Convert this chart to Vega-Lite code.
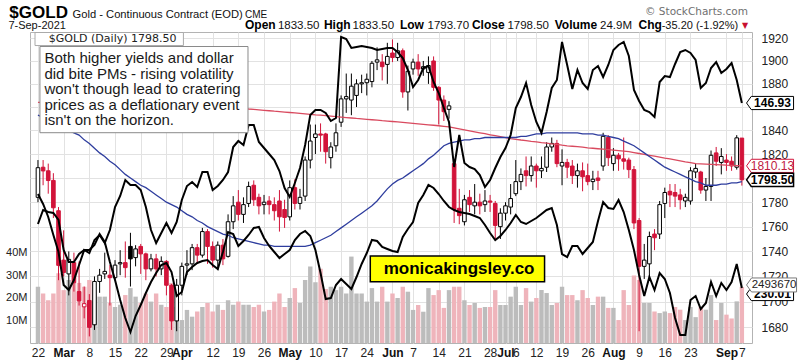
{
"$schema":"https://vega.github.io/schema/vega-lite/v6.json",
"width":722,"height":311,"autosize":"none",
"padding":{"left":30,"top":32,"right":51,"bottom":19},
"background":"#ffffff",
"config":{"view":{"stroke":"#b3b3b3","strokeWidth":1},"font":"Liberation Sans"},
"data":{"values":[
{"i":0,"d":"02-22","o":1784,"h":1815,"l":1780,"c":1808.6,"v":25,"m50":1853,"m200":1864.0,"a":136.01,"b":262.01},
{"i":1,"d":"02-23","o":1809,"h":1815,"l":1794,"c":1805.9,"v":22,"m50":1851,"m200":1863.9,"a":134.81,"b":269.01},
{"i":2,"d":"02-24","o":1806,"h":1812,"l":1787,"c":1797.9,"v":19,"m50":1849,"m200":1863.8,"a":133.25,"b":268.01},
{"i":3,"d":"02-25","o":1798,"h":1804,"l":1767,"c":1775.4,"v":22,"m50":1847,"m200":1863.7,"a":131.09,"b":267.51},
{"i":4,"d":"02-26","o":1773,"h":1776,"l":1717,"c":1728.8,"v":31,"m50":1845,"m200":1863.6,"a":129.05,"b":264.01},
{"i":5,"d":"03-01","o":1733,"h":1757,"l":1720,"c":1723.1,"v":23.5,"m50":1843,"m200":1863.5,"a":125.09,"b":249.01},
{"i":6,"d":"03-02","o":1722,"h":1740,"l":1705,"c":1733.6,"v":28,"m50":1840,"m200":1863.3,"a":124.49,"b":243.01},
{"i":7,"d":"03-03","o":1731,"h":1739,"l":1708,"c":1715,"v":26.7,"m50":1838,"m200":1863.2,"a":125.69,"b":243.01},
{"i":8,"d":"03-04","o":1708,"h":1732,"l":1697,"c":1700.7,"v":26.7,"m50":1836,"m200":1863.1,"a":127.49,"b":247.01},
{"i":9,"d":"03-05","o":1696,"h":1712,"l":1687,"c":1698.5,"v":25,"m50":1832,"m200":1863.0,"a":129.29,"b":249.01},
{"i":10,"d":"03-08","o":1701,"h":1706,"l":1673,"c":1680,"v":28,"m50":1829,"m200":1862.9,"a":128.93,"b":249.01},
{"i":11,"d":"03-09","o":1682,"h":1720,"l":1678,"c":1716,"v":23.5,"m50":1825,"m200":1862.8,"a":130.49,"b":251.51},
{"i":12,"d":"03-10","o":1716,"h":1726,"l":1707,"c":1721,"v":20.6,"m50":1821,"m200":1862.7,"a":131.09,"b":257.01},
{"i":13,"d":"03-11","o":1722,"h":1739,"l":1718,"c":1724,"v":20.6,"m50":1818,"m200":1862.6,"a":130.13,"b":253.01},
{"i":14,"d":"03-12","o":1721,"h":1729,"l":1697,"c":1719,"v":17.8,"m50":1814,"m200":1862.5,"a":131.69,"b":243.01},
{"i":15,"d":"03-15","o":1719,"h":1733,"l":1717,"c":1729,"v":16,"m50":1811,"m200":1862.3,"a":134.45,"b":234.01},
{"i":16,"d":"03-16","o":1730,"h":1741,"l":1721,"c":1731,"v":17,"m50":1807,"m200":1862.2,"a":135.77,"b":224.01},
{"i":17,"d":"03-17","o":1731,"h":1748,"l":1719,"c":1727,"v":21.3,"m50":1803,"m200":1862.1,"a":137.69,"b":215.01},
{"i":18,"d":"03-18","o":1744,"h":1755,"l":1712,"c":1734,"v":24.4,"m50":1800,"m200":1862.0,"a":137.09,"b":208.01},
{"i":19,"d":"03-19","o":1735,"h":1745,"l":1728,"c":1742,"v":20.6,"m50":1797,"m200":1861.9,"a":137.09,"b":216.01},
{"i":20,"d":"03-22","o":1744,"h":1746,"l":1722,"c":1738,"v":17.8,"m50":1794,"m200":1861.8,"a":136.49,"b":221.51},
{"i":21,"d":"03-23","o":1738,"h":1739,"l":1717,"c":1726,"v":22,"m50":1792,"m200":1861.7,"a":134.45,"b":227.51},
{"i":22,"d":"03-24","o":1726,"h":1738,"l":1724,"c":1734,"v":18.4,"m50":1789,"m200":1861.6,"a":131.69,"b":233.01},
{"i":23,"d":"03-25","o":1734,"h":1738,"l":1720,"c":1726,"v":22,"m50":1786,"m200":1861.5,"a":130.13,"b":237.51},
{"i":24,"d":"03-26","o":1726,"h":1736,"l":1721,"c":1732,"v":17,"m50":1783,"m200":1861.4,"a":131.33,"b":241.51},
{"i":25,"d":"03-29","o":1732,"h":1733,"l":1705,"c":1713,"v":16,"m50":1780,"m200":1861.2,"a":132.53,"b":242.51},
{"i":26,"d":"03-30","o":1713,"h":1714,"l":1678,"c":1685,"v":26.7,"m50":1778,"m200":1861.1,"a":131.33,"b":238.01},
{"i":27,"d":"03-31","o":1685,"h":1718,"l":1677,"c":1713,"v":16,"m50":1776,"m200":1861.0,"a":132.65,"b":226.01},
{"i":28,"d":"04-01","o":1713,"h":1731,"l":1705,"c":1728,"v":10.2,"m50":1773,"m200":1860.9,"a":135.29,"b":228.01},
{"i":29,"d":"04-05","o":1729,"h":1741,"l":1721,"c":1730,"v":14.7,"m50":1770,"m200":1860.8,"a":136.97,"b":238.01},
{"i":30,"d":"04-06","o":1730,"h":1746,"l":1725,"c":1743,"v":11.7,"m50":1768,"m200":1860.7,"a":137.45,"b":240.51},
{"i":31,"d":"04-07","o":1743,"h":1746,"l":1730,"c":1737,"v":14,"m50":1765,"m200":1860.6,"a":136.85,"b":242.51},
{"i":32,"d":"04-08","o":1737,"h":1759,"l":1735,"c":1756,"v":16,"m50":1763,"m200":1860.5,"a":138.65,"b":243.51},
{"i":33,"d":"04-09","o":1756,"h":1758,"l":1730,"c":1744,"v":17.8,"m50":1760,"m200":1860.4,"a":138.65,"b":244.01},
{"i":34,"d":"04-12","o":1744,"h":1748,"l":1727,"c":1733,"v":14,"m50":1758,"m200":1860.2,"a":136.49,"b":241.51},
{"i":35,"d":"04-13","o":1733,"h":1748,"l":1725,"c":1745,"v":17,"m50":1756,"m200":1860.1,"a":136.97,"b":239.51},
{"i":36,"d":"04-14","o":1745,"h":1750,"l":1729,"c":1734,"v":14.7,"m50":1754,"m200":1860.0,"a":137.69,"b":248.01},
{"i":37,"d":"04-15","o":1736,"h":1770,"l":1735,"c":1764,"v":19,"m50":1753,"m200":1859.7,"a":138.65,"b":258.01},
{"i":38,"d":"04-16","o":1764,"h":1785,"l":1758,"c":1777,"v":17,"m50":1751,"m200":1859.3,"a":141.65,"b":257.01},
{"i":39,"d":"04-19","o":1780,"h":1790,"l":1765,"c":1770,"v":18.4,"m50":1750,"m200":1859.0,"a":142.37,"b":251.01},
{"i":40,"d":"04-20","o":1770,"h":1784,"l":1763,"c":1778,"v":17,"m50":1749,"m200":1858.7,"a":141.89,"b":253.51},
{"i":41,"d":"04-21","o":1779,"h":1797,"l":1776,"c":1793,"v":17,"m50":1748,"m200":1858.3,"a":144.29,"b":256.51},
{"i":42,"d":"04-22","o":1794,"h":1798,"l":1777,"c":1782,"v":16,"m50":1747,"m200":1858.0,"a":144.29,"b":260.01},
{"i":43,"d":"04-23","o":1784,"h":1787,"l":1770,"c":1777,"v":17,"m50":1746,"m200":1857.6,"a":142.25,"b":260.51},
{"i":44,"d":"04-26","o":1778,"h":1786,"l":1770,"c":1780,"v":14,"m50":1745,"m200":1857.2,"a":141.53,"b":255.01},
{"i":45,"d":"04-27","o":1781,"h":1785,"l":1770,"c":1778,"v":14.7,"m50":1745,"m200":1856.8,"a":140.81,"b":251.01},
{"i":46,"d":"04-28","o":1778,"h":1784,"l":1765,"c":1773,"v":18.4,"m50":1744,"m200":1856.4,"a":140.09,"b":248.01},
{"i":47,"d":"04-29","o":1781,"h":1790,"l":1756,"c":1768,"v":22,"m50":1744,"m200":1856.1,"a":138.77,"b":245.01},
{"i":48,"d":"04-30","o":1774,"h":1782,"l":1759,"c":1767.5,"v":16,"m50":1744,"m200":1855.7,"a":136.73,"b":247.01},
{"i":49,"d":"05-03","o":1768,"h":1798,"l":1765,"c":1792,"v":20,"m50":1744,"m200":1855.3,"a":135.65,"b":249.01},
{"i":50,"d":"05-04","o":1792,"h":1799,"l":1774,"c":1779,"v":24.4,"m50":1744,"m200":1854.9,"a":137.33,"b":254.01},
{"i":51,"d":"05-05","o":1779,"h":1791,"l":1774,"c":1784,"v":17.8,"m50":1744,"m200":1854.5,"a":139.13,"b":257.01},
{"i":52,"d":"05-06","o":1785,"h":1818,"l":1781,"c":1815,"v":28,"m50":1744,"m200":1854.1,"a":141.89,"b":258.51},
{"i":53,"d":"05-07","o":1815,"h":1845,"l":1808,"c":1831,"v":34,"m50":1745,"m200":1853.7,"a":145.49,"b":256.01},
{"i":54,"d":"05-10","o":1834,"h":1845,"l":1820,"c":1837,"v":27,"m50":1747,"m200":1853.3,"a":146.09,"b":249.01},
{"i":55,"d":"05-11","o":1837,"h":1846,"l":1822,"c":1836,"v":33,"m50":1749,"m200":1853.0,"a":146.09,"b":237.51},
{"i":56,"d":"05-12","o":1837,"h":1838,"l":1812,"c":1822,"v":24,"m50":1751,"m200":1852.6,"a":145.73,"b":224.51},
{"i":57,"d":"05-13","o":1817,"h":1830,"l":1808,"c":1826,"v":25,"m50":1753,"m200":1852.2,"a":144.77,"b":225.01},
{"i":58,"d":"05-14","o":1827,"h":1846,"l":1822,"c":1838,"v":23.5,"m50":1756,"m200":1851.8,"a":145.13,"b":231.51},
{"i":59,"d":"05-17","o":1847,"h":1870,"l":1843,"c":1867,"v":25,"m50":1759,"m200":1851.4,"a":154.85,"b":234.51},
{"i":60,"d":"05-18","o":1867,"h":1889,"l":1855,"c":1869,"v":22,"m50":1762,"m200":1851.0,"a":154.61,"b":232.01},
{"i":61,"d":"05-19","o":1866,"h":1889,"l":1853,"c":1878,"v":38.4,"m50":1765,"m200":1850.6,"a":153.53,"b":229.51},
{"i":62,"d":"05-20","o":1870,"h":1884,"l":1860,"c":1880,"v":22,"m50":1768,"m200":1850.2,"a":153.65,"b":235.51},
{"i":63,"d":"05-21","o":1880,"h":1888,"l":1872,"c":1881,"v":22,"m50":1771,"m200":1849.9,"a":153.77,"b":242.01},
{"i":64,"d":"05-24","o":1881,"h":1889,"l":1870,"c":1884,"v":18.4,"m50":1774,"m200":1849.5,"a":153.65,"b":247.51},
{"i":65,"d":"05-25","o":1882,"h":1900,"l":1877,"c":1898,"v":24.4,"m50":1777,"m200":1849.1,"a":153.53,"b":254.01},
{"i":66,"d":"05-26","o":1899,"h":1912,"l":1892,"c":1901,"v":18.4,"m50":1781,"m200":1848.7,"a":153.29,"b":253.51},
{"i":67,"d":"05-27","o":1899,"h":1906,"l":1883,"c":1895,"v":25,"m50":1786,"m200":1848.3,"a":153.41,"b":250.51},
{"i":68,"d":"05-28","o":1897,"h":1916,"l":1880,"c":1904,"v":18.4,"m50":1791,"m200":1848.0,"a":153.53,"b":249.51},
{"i":69,"d":"06-01","o":1907,"h":1919,"l":1899,"c":1903,"v":22,"m50":1795,"m200":1847.6,"a":153.53,"b":248.51},
{"i":70,"d":"06-02","o":1903,"h":1916,"l":1900,"c":1909,"v":20,"m50":1798,"m200":1847.2,"a":153.05,"b":248.01},
{"i":71,"d":"06-03","o":1909,"h":1911,"l":1868,"c":1873,"v":25,"m50":1800,"m200":1846.8,"a":152.33,"b":255.51},
{"i":72,"d":"06-04","o":1873,"h":1896,"l":1857,"c":1891,"v":22.8,"m50":1803,"m200":1846.4,"a":150.89,"b":259.51},
{"i":73,"d":"06-07","o":1893,"h":1902,"l":1888,"c":1899,"v":14.7,"m50":1806,"m200":1846.0,"a":148.85,"b":263.01},
{"i":74,"d":"06-08","o":1899,"h":1906,"l":1887,"c":1893,"v":16.9,"m50":1809,"m200":1845.6,"a":149.69,"b":272.51},
{"i":75,"d":"06-09","o":1893,"h":1900,"l":1887,"c":1895,"v":13.9,"m50":1812,"m200":1845.2,"a":151.13,"b":276.51},
{"i":76,"d":"06-10","o":1890,"h":1904,"l":1880,"c":1896,"v":24.4,"m50":1816,"m200":1844.8,"a":151.37,"b":281.51},
{"i":77,"d":"06-11","o":1900,"h":1904,"l":1874,"c":1877,"v":21.3,"m50":1819,"m200":1844.4,"a":149.45,"b":280.01},
{"i":78,"d":"06-14","o":1877,"h":1878,"l":1845,"c":1866,"v":23.5,"m50":1823,"m200":1844.0,"a":148.13,"b":277.01},
{"i":79,"d":"06-15","o":1866,"h":1870,"l":1848,"c":1856,"v":15.6,"m50":1827,"m200":1843.5,"a":146.33,"b":273.51},
{"i":80,"d":"06-16","o":1858,"h":1865,"l":1850,"c":1861,"v":23.5,"m50":1829,"m200":1843.0,"a":144.65,"b":270.51},
{"i":81,"d":"06-17","o":1812,"h":1816,"l":1763,"c":1774,"v":25,"m50":1830,"m200":1842.2,"a":139.25,"b":269.01},
{"i":82,"d":"06-18","o":1775,"h":1791,"l":1762,"c":1769,"v":25,"m50":1831,"m200":1841.3,"a":143.09,"b":268.01},
{"i":83,"d":"06-21","o":1764,"h":1786,"l":1761,"c":1782,"v":19,"m50":1832,"m200":1840.5,"a":139.73,"b":267.51},
{"i":84,"d":"06-22","o":1784,"h":1790,"l":1772,"c":1778,"v":16.9,"m50":1832,"m200":1839.7,"a":139.25,"b":267.01},
{"i":85,"d":"06-23","o":1777,"h":1795,"l":1770,"c":1780,"v":17.8,"m50":1833,"m200":1838.8,"a":139.01,"b":266.01},
{"i":86,"d":"06-24","o":1780,"h":1787,"l":1770,"c":1777,"v":15.6,"m50":1833,"m200":1838.0,"a":138.29,"b":265.01},
{"i":87,"d":"06-25","o":1778,"h":1790,"l":1772,"c":1781,"v":16,"m50":1834,"m200":1837.2,"a":136.85,"b":261.51},
{"i":88,"d":"06-28","o":1781,"h":1786,"l":1772,"c":1780,"v":16,"m50":1834,"m200":1836.3,"a":137.69,"b":257.51},
{"i":89,"d":"06-29","o":1779,"h":1781,"l":1750,"c":1761,"v":23.5,"m50":1834,"m200":1835.5,"a":139.13,"b":254.01},
{"i":90,"d":"06-30","o":1760,"h":1775,"l":1750,"c":1771,"v":16.9,"m50":1834,"m200":1834.7,"a":140.45,"b":256.01},
{"i":91,"d":"07-01","o":1771,"h":1780,"l":1765,"c":1777,"v":16.9,"m50":1834,"m200":1833.8,"a":141.53,"b":259.01},
{"i":92,"d":"07-02","o":1776,"h":1795,"l":1770,"c":1783,"v":20.6,"m50":1834,"m200":1833.0,"a":143.09,"b":262.51},
{"i":93,"d":"07-06","o":1787,"h":1815,"l":1785,"c":1797,"v":25,"m50":1834,"m200":1832.5,"a":146.33,"b":266.51},
{"i":94,"d":"07-07","o":1797,"h":1808,"l":1790,"c":1803,"v":16.9,"m50":1835,"m200":1831.9,"a":147.65,"b":263.01},
{"i":95,"d":"07-08","o":1806,"h":1818,"l":1793,"c":1802,"v":24.4,"m50":1835,"m200":1831.4,"a":149.33,"b":262.01},
{"i":96,"d":"07-09","o":1802,"h":1818,"l":1797,"c":1810,"v":18.4,"m50":1836,"m200":1830.8,"a":146.69,"b":263.51},
{"i":97,"d":"07-12","o":1810,"h":1812,"l":1792,"c":1806,"v":20,"m50":1837,"m200":1830.3,"a":144.65,"b":265.01},
{"i":98,"d":"07-13","o":1806,"h":1818,"l":1800,"c":1808,"v":23.5,"m50":1837,"m200":1829.7,"a":143.33,"b":267.01},
{"i":99,"d":"07-14","o":1809,"h":1830,"l":1805,"c":1826,"v":22.2,"m50":1838,"m200":1829.2,"a":145.85,"b":269.01},
{"i":100,"d":"07-15","o":1826,"h":1834,"l":1822,"c":1829,"v":16.9,"m50":1838,"m200":1828.6,"a":148.73,"b":270.01},
{"i":101,"d":"07-16","o":1829,"h":1832,"l":1809,"c":1812,"v":17.8,"m50":1838,"m200":1828.1,"a":149.69,"b":261.51},
{"i":102,"d":"07-19","o":1810,"h":1824,"l":1794,"c":1813,"v":25,"m50":1838,"m200":1827.5,"a":154.25,"b":247.01},
{"i":103,"d":"07-20","o":1813,"h":1816,"l":1800,"c":1809,"v":21.3,"m50":1838,"m200":1827.0,"a":151.49,"b":245.51},
{"i":104,"d":"07-21","o":1810,"h":1815,"l":1795,"c":1802,"v":21.3,"m50":1838,"m200":1826.6,"a":148.61,"b":251.01},
{"i":105,"d":"07-22","o":1802,"h":1812,"l":1792,"c":1806,"v":19,"m50":1838,"m200":1826.2,"a":150.89,"b":251.01},
{"i":106,"d":"07-23","o":1806,"h":1813,"l":1789,"c":1801,"v":23.5,"m50":1837,"m200":1825.8,"a":149.33,"b":247.01},
{"i":107,"d":"07-26","o":1802,"h":1812,"l":1794,"c":1797,"v":20,"m50":1837,"m200":1825.3,"a":148.61,"b":250.01},
{"i":108,"d":"07-27","o":1797,"h":1806,"l":1790,"c":1799,"v":16.9,"m50":1837,"m200":1824.9,"a":150.89,"b":253.01},
{"i":109,"d":"07-28","o":1800,"h":1806,"l":1790,"c":1798,"v":20.6,"m50":1836,"m200":1824.5,"a":151.37,"b":263.51},
{"i":110,"d":"07-29","o":1810,"h":1838,"l":1806,"c":1835,"v":20.6,"m50":1836,"m200":1824.1,"a":150.05,"b":273.01},
{"i":111,"d":"07-30","o":1834,"h":1836,"l":1810,"c":1817,"v":15.6,"m50":1835,"m200":1823.7,"a":151.49,"b":270.01},
{"i":112,"d":"08-02","o":1812,"h":1825,"l":1806,"c":1819,"v":15.6,"m50":1834,"m200":1823.3,"a":153.29,"b":269.51},
{"i":113,"d":"08-03","o":1819,"h":1821,"l":1806,"c":1816,"v":10.2,"m50":1833,"m200":1822.9,"a":153.89,"b":274.01},
{"i":114,"d":"08-04","o":1816,"h":1834,"l":1807,"c":1814,"v":23.5,"m50":1831,"m200":1822.5,"a":154.25,"b":268.01},
{"i":115,"d":"08-05","o":1815,"h":1817,"l":1800,"c":1807,"v":16.9,"m50":1829,"m200":1822.0,"a":152.57,"b":259.01},
{"i":116,"d":"08-06","o":1807,"h":1810,"l":1758,"c":1763,"v":30,"m50":1827,"m200":1821.3,"a":148.49,"b":249.01},
{"i":117,"d":"08-09","o":1765,"h":1767,"l":1677,"c":1728,"v":28,"m50":1824,"m200":1820.5,"a":147.17,"b":236.51},
{"i":118,"d":"08-10","o":1728,"h":1746,"l":1718,"c":1733,"v":17.8,"m50":1821,"m200":1819.7,"a":146.09,"b":226.01},
{"i":119,"d":"08-11","o":1730,"h":1756,"l":1718,"c":1752,"v":17.8,"m50":1818,"m200":1819.0,"a":145.85,"b":235.51},
{"i":120,"d":"08-12","o":1754,"h":1758,"l":1741,"c":1751,"v":14,"m50":1815,"m200":1818.2,"a":145.25,"b":229.01},
{"i":121,"d":"08-13","o":1754,"h":1781,"l":1750,"c":1778,"v":13.3,"m50":1812,"m200":1817.4,"a":149.45,"b":237.51},
{"i":122,"d":"08-16","o":1779,"h":1792,"l":1767,"c":1788,"v":14,"m50":1809,"m200":1816.6,"a":150.17,"b":234.51},
{"i":123,"d":"08-17","o":1789,"h":1795,"l":1776,"c":1786,"v":13.3,"m50":1807,"m200":1815.9,"a":150.05,"b":227.51},
{"i":124,"d":"08-18","o":1788,"h":1795,"l":1776,"c":1785,"v":16,"m50":1805,"m200":1815.1,"a":151.61,"b":215.01},
{"i":125,"d":"08-19","o":1786,"h":1791,"l":1774,"c":1782,"v":14.8,"m50":1803,"m200":1814.3,"a":153.05,"b":206.51},
{"i":126,"d":"08-20","o":1781,"h":1787,"l":1776,"c":1784,"v":10.2,"m50":1801,"m200":1813.5,"a":153.29,"b":206.51},
{"i":127,"d":"08-23","o":1781,"h":1809,"l":1778,"c":1806,"v":16,"m50":1799,"m200":1812.8,"a":152.93,"b":224.01},
{"i":128,"d":"08-24","o":1805,"h":1812,"l":1800,"c":1808,"v":11.5,"m50":1797,"m200":1812.0,"a":152.09,"b":226.01},
{"i":129,"d":"08-25","o":1805,"h":1806,"l":1787,"c":1790,"v":16,"m50":1796,"m200":1811.8,"a":148.73,"b":219.51},
{"i":130,"d":"08-26","o":1790,"h":1800,"l":1781,"c":1793,"v":14.8,"m50":1794,"m200":1811.6,"a":149.33,"b":222.51},
{"i":131,"d":"08-27","o":1793,"h":1823,"l":1781,"c":1819,"v":21.3,"m50":1794,"m200":1811.4,"a":151.13,"b":233.01},
{"i":132,"d":"08-30","o":1821,"h":1826,"l":1810,"c":1814,"v":10.2,"m50":1794,"m200":1811.2,"a":151.85,"b":226.01},
{"i":133,"d":"08-31","o":1813,"h":1825,"l":1803,"c":1818,"v":17.8,"m50":1795,"m200":1811.0,"a":150.53,"b":232.51},
{"i":134,"d":"09-01","o":1815,"h":1820,"l":1806,"c":1813,"v":12.6,"m50":1795,"m200":1810.7,"a":151.01,"b":229.01},
{"i":135,"d":"09-02","o":1814,"h":1818,"l":1806,"c":1810,"v":10.9,"m50":1796,"m200":1810.5,"a":151.73,"b":233.01},
{"i":136,"d":"09-03","o":1809,"h":1836,"l":1807,"c":1833.7,"v":18.5,"m50":1796,"m200":1810.3,"a":149.69,"b":242.01},
{"i":137,"d":"09-07","o":1833.5,"h":1833.5,"l":1793.7,"c":1798.5,"v":24.9,"m50":1797,"m200":1810.13,"a":146.93,"b":230.01}
]},
"resolve":{"scale":{"y":"independent"},"axis":{"x":"independent","y":"independent"}},
"layer":[
{"transform":[{"window":[{"op":"lag","field":"c","as":"pc"}],"sort":[{"field":"i"}]}],
 "mark":{"type":"bar","width":4.4},
 "encoding":{
  "x":{"field":"i","type":"quantitative","scale":{"domain":[-0.576,138],"nice":false,"zero":false},
   "axis":{"orient":"bottom","values":[0,5,10,15,20,25,28,34,39,44,49,54,59,64,69,73,78,83,88,91,93,97,102,107,112,117,122,127,134,137],"grid":true,"gridColor":"#e2e2e2","labels":false,"ticks":false,"domain":false,"title":null}},
  "y":{"field":"v","type":"quantitative","scale":{"domain":[0,138.2],"nice":false},
   "axis":{"orient":"left","values":[10,20,30,40],"labelExpr":"datum.value + 'M'","grid":false,"ticks":false,"domain":false,"labelPadding":3,"labelFontSize":11,"labelColor":"#222222","labelFont":"Liberation Sans","title":null}},
  "color":{"condition":{"test":"datum.pc != null && datum.c < datum.pc","value":"#efb4bb"},"value":"#bcbcbc"}}},
{"transform":[{"window":[{"op":"lag","field":"c","as":"pc"}],"sort":[{"field":"i"}]}],
 "mark":{"type":"rule","strokeWidth":1},
 "encoding":{
  "x":{"field":"i","type":"quantitative","scale":{"domain":[-0.576,138],"nice":false,"zero":false},
   "axis":{"orient":"bottom","values":[0,10,15,20,25,34,39,44,54,59,64,73,78,83,88,93,97,102,107,117,122,127,137],
    "labelExpr":"['22','8','15','22','29','12','19','26','10','17','24','7','14','21','28','6','12','19','26','9','16','23','7'][indexof([0,10,15,20,25,34,39,44,54,59,64,73,78,83,88,93,97,102,107,117,122,127,137], datum.value)]",
    "grid":false,"ticks":false,"domain":false,"labelPadding":4,"labelFontSize":12,"labelColor":"#222222","labelFont":"Liberation Sans","labelOverlap":false,"labelFlush":false,"labelBound":false,"title":null}},
  "y":{"field":"l","type":"quantitative","scale":{"type":"log","domain":[1667.9,1925.6],"nice":false,"zero":false},
   "axis":{"orient":"right","values":[1680,1700,1720,1740,1760,1780,1820,1840,1880,1900,1920],"format":"d","grid":false,"ticks":false,"domain":false,"labelPadding":9,"labelFontSize":12,"labelColor":"#222222","labelFont":"Liberation Sans","labelOverlap":false,"labelBound":false,"title":null}},
  "y2":{"field":"h"},
  "color":{"condition":{"test":"datum.pc != null && datum.c < datum.pc","value":"#d2143a"},"value":"#000000"}}},
{"transform":[{"window":[{"op":"lag","field":"c","as":"pc"}],"sort":[{"field":"i"}]}],
 "mark":{"type":"bar","width":3.6,"strokeWidth":1},
 "encoding":{
  "x":{"field":"i","type":"quantitative","scale":{"domain":[-0.576,138],"nice":false,"zero":false},
   "axis":{"orient":"bottom","values":[5,28,49,69,91,112,134],"labelExpr":"['Mar','Apr','May','Jun','Jul','Aug','Sep'][indexof([5,28,49,69,91,112,134], datum.value)]",
    "grid":false,"ticks":false,"domain":false,"labelPadding":4,"labelFontSize":12,"labelFontWeight":"bold","labelColor":"#111111","labelFont":"Liberation Sans","labelOverlap":false,"labelFlush":false,"labelBound":false,"title":null}},
  "y":{"field":"o","type":"quantitative","scale":{"type":"log","domain":[1667.9,1925.6],"nice":false,"zero":false},"axis":null},
  "y2":{"field":"c"},
  "fill":{"condition":[{"test":"datum.c >= datum.o","value":"#ffffff"},{"test":"datum.pc != null && datum.c < datum.pc","value":"#d2143a"}],"value":"#000000"},
  "stroke":{"condition":{"test":"datum.pc != null && datum.c < datum.pc","value":"#d2143a"},"value":"#000000"}}},
{"mark":{"type":"line","color":"#d94a5f","strokeWidth":1.3},
 "encoding":{"x":{"field":"i","type":"quantitative","scale":{"domain":[-0.576,138],"nice":false,"zero":false},"axis":null},
  "y":{"field":"m200","type":"quantitative","scale":{"type":"log","domain":[1667.9,1925.6],"nice":false,"zero":false},
   "axis":{"orient":"right","values":[1680,1700,1720,1740,1760,1780,1800,1820,1840,1860,1880,1900,1920],"grid":true,"gridColor":"#e2e2e2","labels":false,"ticks":false,"domain":false,"title":null}}}},
{"mark":{"type":"line","color":"#2e3d9e","strokeWidth":1.3},
 "encoding":{"x":{"field":"i","type":"quantitative","scale":{"domain":[-0.576,138],"nice":false,"zero":false},"axis":null},
  "y":{"field":"m50","type":"quantitative","scale":{"type":"log","domain":[1667.9,1925.6],"nice":false,"zero":false},"axis":null}}},
{"mark":{"type":"line","color":"#000000","strokeWidth":2},
 "encoding":{"x":{"field":"i","type":"quantitative","scale":{"domain":[-0.576,138],"nice":false,"zero":false},"axis":null},
  "y":{"field":"a","type":"quantitative","scale":{"domain":[118.13,155.45],"nice":false,"zero":false},"axis":null}}},
{"mark":{"type":"line","color":"#000000","strokeWidth":2},
 "encoding":{"x":{"field":"i","type":"quantitative","scale":{"domain":[-0.576,138],"nice":false,"zero":false},"axis":null},
  "y":{"field":"b","type":"quantitative","scale":{"domain":[202.51,358.01],"nice":false,"zero":false},"axis":null}}},
{"data":{"values":[{}]},"mark":{"type":"rect","fill":"#ffffff","stroke":"#aaaaaa","strokeWidth":1},
 "encoding":{"x":{"datum":-0.576,"type":"quantitative","scale":{"domain":[-0.576,138],"nice":false,"zero":false},"axis":null},"x2":{"datum":28.31},
  "y":{"datum":1925.15,"type":"quantitative","scale":{"type":"log","domain":[1667.9,1925.6],"nice":false,"zero":false},"axis":null},"y2":{"datum":1913.6}}},
{"data":{"values":[{}]},"mark":{"type":"text","text":"$GOLD (Daily) 1798.50","align":"left","baseline":"middle","font":"DejaVu Sans","fontSize":11,"color":"#222222"},
 "encoding":{"x":{"datum":2.11,"type":"quantitative","scale":{"domain":[-0.576,138],"nice":false,"zero":false},"axis":null},
  "y":{"datum":1919.4,"type":"quantitative","scale":{"type":"log","domain":[1667.9,1925.6],"nice":false,"zero":false},"axis":null}}},
{"data":{"values":[{}]},"mark":{"type":"rect","fill":"#ffffff","stroke":"#8a8a8a","strokeWidth":1},
 "encoding":{"x":{"datum":0.384,"type":"quantitative","scale":{"domain":[-0.576,138],"nice":false,"zero":false},"axis":null},"x2":{"datum":40.88},
  "y":{"datum":1912.74,"type":"quantitative","scale":{"type":"log","domain":[1667.9,1925.6],"nice":false,"zero":false},"axis":null},"y2":{"datum":1838.06}}},
{"data":{"values":[{}]},"mark":{"type":"text","text":["Both higher yields and dollar","did bite PMs - rising volatility","won't though lead to cratering","prices as a deflationary event","isn't on the horizon."],"align":"left","baseline":"top","lineHeight":15.5,"font":"Liberation Sans","fontSize":15,"color":"#1a1a1a"},
 "encoding":{"x":{"datum":1.25,"type":"quantitative","scale":{"domain":[-0.576,138],"nice":false,"zero":false},"axis":null},
  "y":{"datum":1908.6,"type":"quantitative","scale":{"type":"log","domain":[1667.9,1925.6],"nice":false,"zero":false},"axis":null}}},
{"data":{"values":[{}]},"mark":{"type":"rect","fill":"#ffff00","stroke":"#000000","strokeWidth":1.5},
 "encoding":{"x":{"datum":64.68,"type":"quantitative","scale":{"domain":[-0.576,138],"nice":false,"zero":false},"axis":null},"x2":{"datum":98.6},
  "y":{"datum":1736.3,"type":"quantitative","scale":{"type":"log","domain":[1667.9,1925.6],"nice":false,"zero":false},"axis":null},"y2":{"datum":1715.77}}},
{"data":{"values":[{}]},"mark":{"type":"text","text":"monicakingsley.co","align":"center","baseline":"middle","font":"Liberation Sans","fontSize":17,"fontWeight":"bold","color":"#000000"},
 "encoding":{"x":{"datum":81.96,"type":"quantitative","scale":{"domain":[-0.576,138],"nice":false,"zero":false},"axis":null},
  "y":{"datum":1725.87,"type":"quantitative","scale":{"type":"log","domain":[1667.9,1925.6],"nice":false,"zero":false},"axis":null}}},
{"data":{"values":[{}]},"mark":{"type":"text","text":"$GOLD","align":"left","baseline":"alphabetic","font":"Liberation Sans","fontSize":17,"fontWeight":"bold","color":"#000000"},
 "encoding":{"x":{"datum":-5.566,"type":"quantitative","scale":{"domain":[-0.576,138],"nice":false,"zero":false},"axis":null},
  "y":{"datum":1938.5,"type":"quantitative","scale":{"type":"log","domain":[1667.9,1925.6],"nice":false,"zero":false},"axis":null}}},
{"data":{"values":[{}]},"mark":{"type":"text","text":"Gold - Continuous Contract (EOD)","align":"left","baseline":"alphabetic","font":"Liberation Sans","fontSize":11.2,"color":"#111111"},
 "encoding":{"x":{"datum":6.718,"type":"quantitative","scale":{"domain":[-0.576,138],"nice":false,"zero":false},"axis":null},
  "y":{"datum":1938.5,"type":"quantitative","scale":{"type":"log","domain":[1667.9,1925.6],"nice":false,"zero":false},"axis":null}}},
{"data":{"values":[{}]},"mark":{"type":"text","text":"CME","align":"left","baseline":"alphabetic","font":"Liberation Sans","fontSize":10,"color":"#111111"},
 "encoding":{"x":{"datum":40.307,"type":"quantitative","scale":{"domain":[-0.576,138],"nice":false,"zero":false},"axis":null},
  "y":{"datum":1938.5,"type":"quantitative","scale":{"type":"log","domain":[1667.9,1925.6],"nice":false,"zero":false},"axis":null}}},
{"data":{"values":[{}]},"mark":{"type":"text","text":"7-Sep-2021","align":"left","baseline":"alphabetic","font":"Liberation Sans","fontSize":11,"color":"#111111"},
 "encoding":{"x":{"datum":-5.758,"type":"quantitative","scale":{"domain":[-0.576,138],"nice":false,"zero":false},"axis":null},
  "y":{"datum":1928.0,"type":"quantitative","scale":{"type":"log","domain":[1667.9,1925.6],"nice":false,"zero":false},"axis":null}}},
{"data":{"values":[{}]},"mark":{"type":"text","text":"Open","align":"left","baseline":"alphabetic","font":"Liberation Sans","fontSize":12,"fontWeight":"bold","color":"#000000"},
 "encoding":{"x":{"datum":40.3,"type":"quantitative","scale":{"domain":[-0.576,138],"nice":false,"zero":false},"axis":null},
  "y":{"datum":1928.3,"type":"quantitative","scale":{"type":"log","domain":[1667.9,1925.6],"nice":false,"zero":false},"axis":null}}},
{"data":{"values":[{}]},"mark":{"type":"text","text":"1833.50","align":"left","baseline":"alphabetic","font":"Liberation Sans","fontSize":11.5,"color":"#111111"},
 "encoding":{"x":{"datum":46.7,"type":"quantitative","scale":{"domain":[-0.576,138],"nice":false,"zero":false},"axis":null},
  "y":{"datum":1928.3,"type":"quantitative","scale":{"type":"log","domain":[1667.9,1925.6],"nice":false,"zero":false},"axis":null}}},
{"data":{"values":[{}]},"mark":{"type":"text","text":"High","align":"left","baseline":"alphabetic","font":"Liberation Sans","fontSize":12,"fontWeight":"bold","color":"#000000"},
 "encoding":{"x":{"datum":55.662,"type":"quantitative","scale":{"domain":[-0.576,138],"nice":false,"zero":false},"axis":null},
  "y":{"datum":1928.3,"type":"quantitative","scale":{"type":"log","domain":[1667.9,1925.6],"nice":false,"zero":false},"axis":null}}},
{"data":{"values":[{}]},"mark":{"type":"text","text":"1833.50","align":"left","baseline":"alphabetic","font":"Liberation Sans","fontSize":11.5,"color":"#111111"},
 "encoding":{"x":{"datum":61.228,"type":"quantitative","scale":{"domain":[-0.576,138],"nice":false,"zero":false},"axis":null},
  "y":{"datum":1928.3,"type":"quantitative","scale":{"type":"log","domain":[1667.9,1925.6],"nice":false,"zero":false},"axis":null}}},
{"data":{"values":[{}]},"mark":{"type":"text","text":"Low","align":"left","baseline":"alphabetic","font":"Liberation Sans","fontSize":12,"fontWeight":"bold","color":"#000000"},
 "encoding":{"x":{"datum":70.441,"type":"quantitative","scale":{"domain":[-0.576,138],"nice":false,"zero":false},"axis":null},
  "y":{"datum":1928.3,"type":"quantitative","scale":{"type":"log","domain":[1667.9,1925.6],"nice":false,"zero":false},"axis":null}}},
{"data":{"values":[{}]},"mark":{"type":"text","text":"1793.70","align":"left","baseline":"alphabetic","font":"Liberation Sans","fontSize":11.5,"color":"#111111"},
 "encoding":{"x":{"datum":75.816,"type":"quantitative","scale":{"domain":[-0.576,138],"nice":false,"zero":false},"axis":null},
  "y":{"datum":1928.3,"type":"quantitative","scale":{"type":"log","domain":[1667.9,1925.6],"nice":false,"zero":false},"axis":null}}},
{"data":{"values":[{}]},"mark":{"type":"text","text":"Close","align":"left","baseline":"alphabetic","font":"Liberation Sans","fontSize":12,"fontWeight":"bold","color":"#000000"},
 "encoding":{"x":{"datum":84.453,"type":"quantitative","scale":{"domain":[-0.576,138],"nice":false,"zero":false},"axis":null},
  "y":{"datum":1928.3,"type":"quantitative","scale":{"type":"log","domain":[1667.9,1925.6],"nice":false,"zero":false},"axis":null}}},
{"data":{"values":[{}]},"mark":{"type":"text","text":"1798.50","align":"left","baseline":"alphabetic","font":"Liberation Sans","fontSize":11.5,"color":"#111111"},
 "encoding":{"x":{"datum":91.363,"type":"quantitative","scale":{"domain":[-0.576,138],"nice":false,"zero":false},"axis":null},
  "y":{"datum":1928.3,"type":"quantitative","scale":{"type":"log","domain":[1667.9,1925.6],"nice":false,"zero":false},"axis":null}}},
{"data":{"values":[{}]},"mark":{"type":"text","text":"Volume","align":"left","baseline":"alphabetic","font":"Liberation Sans","fontSize":12,"fontWeight":"bold","color":"#000000"},
 "encoding":{"x":{"datum":100.576,"type":"quantitative","scale":{"domain":[-0.576,138],"nice":false,"zero":false},"axis":null},
  "y":{"datum":1928.3,"type":"quantitative","scale":{"type":"log","domain":[1667.9,1925.6],"nice":false,"zero":false},"axis":null}}},
{"data":{"values":[{}]},"mark":{"type":"text","text":"24.9M","align":"left","baseline":"alphabetic","font":"Liberation Sans","fontSize":11.5,"color":"#111111"},
 "encoding":{"x":{"datum":109.405,"type":"quantitative","scale":{"domain":[-0.576,138],"nice":false,"zero":false},"axis":null},
  "y":{"datum":1928.3,"type":"quantitative","scale":{"type":"log","domain":[1667.9,1925.6],"nice":false,"zero":false},"axis":null}}},
{"data":{"values":[{}]},"mark":{"type":"text","text":"Chg","align":"left","baseline":"alphabetic","font":"Liberation Sans","fontSize":12,"fontWeight":"bold","color":"#000000"},
 "encoding":{"x":{"datum":116.891,"type":"quantitative","scale":{"domain":[-0.576,138],"nice":false,"zero":false},"axis":null},
  "y":{"datum":1928.3,"type":"quantitative","scale":{"type":"log","domain":[1667.9,1925.6],"nice":false,"zero":false},"axis":null}}},
{"data":{"values":[{}]},"mark":{"type":"text","text":"-35.20 (-1.92%)","align":"left","baseline":"alphabetic","font":"Liberation Sans","fontSize":11,"color":"#111111"},
 "encoding":{"x":{"datum":121.4,"type":"quantitative","scale":{"domain":[-0.576,138],"nice":false,"zero":false},"axis":null},
  "y":{"datum":1928.3,"type":"quantitative","scale":{"type":"log","domain":[1667.9,1925.6],"nice":false,"zero":false},"axis":null}}},
{"data":{"values":[{}]},"mark":{"type":"text","text":"▼","align":"left","baseline":"alphabetic","font":"DejaVu Sans","fontSize":8,"color":"#c8102e"},
 "encoding":{"x":{"datum":137.04,"type":"quantitative","scale":{"domain":[-0.576,138],"nice":false,"zero":false},"axis":null},
  "y":{"datum":1929.5,"type":"quantitative","scale":{"type":"log","domain":[1667.9,1925.6],"nice":false,"zero":false},"axis":null}}},
{"data":{"values":[{}]},"mark":{"type":"text","text":"© StockCharts.com","align":"right","baseline":"alphabetic","font":"DejaVu Sans","fontSize":10.5,"color":"#707070"},
 "encoding":{"x":{"datum":138.196,"type":"quantitative","scale":{"domain":[-0.576,138],"nice":false,"zero":false},"axis":null},
  "y":{"datum":1940.8,"type":"quantitative","scale":{"type":"log","domain":[1667.9,1925.6],"nice":false,"zero":false},"axis":null}}},
{"transform":[{"filter":"datum.i == 137"}],
 "mark":{"type":"point","shape":"M -1 0 L -0.8 -0.28 L 1 -0.28 L 1 0.28 L -0.8 0.28 Z","size":2209,"filled":true,"fill":"#ffffff","stroke":"#000000","strokeWidth":1,"opacity":1,"xOffset":28.2},
 "encoding":{"x":{"field":"i","type":"quantitative","scale":{"domain":[-0.576,138],"nice":false,"zero":false},"axis":null},
  "y":{"field":"a","type":"quantitative","scale":{"domain":[118.13,155.45],"nice":false,"zero":false},"axis":null}}},
{"transform":[{"filter":"datum.i == 137"}],
 "mark":{"type":"text","dx":30.6,"align":"center","baseline":"middle","font":"Liberation Sans","fontSize":12,"fontWeight":"bold","color":"#000000"},
 "encoding":{"x":{"field":"i","type":"quantitative","scale":{"domain":[-0.576,138],"nice":false,"zero":false},"axis":null},
  "y":{"field":"a","type":"quantitative","scale":{"domain":[118.13,155.45],"nice":false,"zero":false},"axis":null},
  "text":{"field":"a","type":"quantitative","format":".2f"}}},
{"transform":[{"filter":"datum.i == 137"}],
 "mark":{"type":"point","shape":"M -1 0 L -0.8 -0.28 L 1 -0.28 L 1 0.28 L -0.8 0.28 Z","size":2209,"filled":true,"fill":"#ffffff","stroke":"#d2143a","strokeWidth":1,"opacity":1,"xOffset":28.2},
 "encoding":{"x":{"field":"i","type":"quantitative","scale":{"domain":[-0.576,138],"nice":false,"zero":false},"axis":null},
  "y":{"field":"m200","type":"quantitative","scale":{"type":"log","domain":[1667.9,1925.6],"nice":false,"zero":false},"axis":null}}},
{"transform":[{"filter":"datum.i == 137"}],
 "mark":{"type":"text","dx":30.6,"align":"center","baseline":"middle","font":"Liberation Sans","fontSize":12,"color":"#c0203f"},
 "encoding":{"x":{"field":"i","type":"quantitative","scale":{"domain":[-0.576,138],"nice":false,"zero":false},"axis":null},
  "y":{"field":"m200","type":"quantitative","scale":{"type":"log","domain":[1667.9,1925.6],"nice":false,"zero":false},"axis":null},
  "text":{"field":"m200","type":"quantitative","format":".2f"}}},
{"transform":[{"filter":"datum.i == 137"}],
 "mark":{"type":"point","shape":"M -1 0 L -0.8 -0.28 L 1 -0.28 L 1 0.28 L -0.8 0.28 Z","size":2209,"filled":true,"fill":"#ffffff","stroke":"#000000","strokeWidth":1.5,"opacity":1,"xOffset":28.2},
 "encoding":{"x":{"field":"i","type":"quantitative","scale":{"domain":[-0.576,138],"nice":false,"zero":false},"axis":null},
  "y":{"field":"c","type":"quantitative","scale":{"type":"log","domain":[1667.9,1925.6],"nice":false,"zero":false},"axis":null}}},
{"transform":[{"filter":"datum.i == 137"}],
 "mark":{"type":"text","dx":30.6,"align":"center","baseline":"middle","font":"Liberation Sans","fontSize":12,"fontWeight":"bold","color":"#000000"},
 "encoding":{"x":{"field":"i","type":"quantitative","scale":{"domain":[-0.576,138],"nice":false,"zero":false},"axis":null},
  "y":{"field":"c","type":"quantitative","scale":{"type":"log","domain":[1667.9,1925.6],"nice":false,"zero":false},"axis":null},
  "text":{"field":"c","type":"quantitative","format":".2f"}}},
{"transform":[{"filter":"datum.i == 137"}],
 "mark":{"type":"point","shape":"M -1 0 L -0.8 -0.28 L 1 -0.28 L 1 0.28 L -0.8 0.28 Z","size":2209,"filled":true,"fill":"#ffffff","stroke":"#000000","strokeWidth":1,"opacity":1,"xOffset":28.2,"yOffset":6},
 "encoding":{"x":{"field":"i","type":"quantitative","scale":{"domain":[-0.576,138],"nice":false,"zero":false},"axis":null},
  "y":{"field":"b","type":"quantitative","scale":{"domain":[202.51,358.01],"nice":false,"zero":false},"axis":null}}},
{"transform":[{"filter":"datum.i == 137"}],
 "mark":{"type":"text","dx":30.6,"dy":6,"align":"center","baseline":"middle","font":"Liberation Sans","fontSize":12,"fontWeight":"bold","color":"#000000"},
 "encoding":{"x":{"field":"i","type":"quantitative","scale":{"domain":[-0.576,138],"nice":false,"zero":false},"axis":null},
  "y":{"field":"b","type":"quantitative","scale":{"domain":[202.51,358.01],"nice":false,"zero":false},"axis":null},
  "text":{"field":"b","type":"quantitative","format":".2f"}}},
{"transform":[{"filter":"datum.i == 137"}],
 "mark":{"type":"point","shape":"M -1 0 L -0.8 -0.28 L 1 -0.28 L 1 0.28 L -0.8 0.28 Z","size":2500,"filled":true,"fill":"#ffffff","stroke":"#7a7a7a","strokeWidth":1,"opacity":1,"xOffset":29.7,"yOffset":-2},
 "encoding":{"x":{"field":"i","type":"quantitative","scale":{"domain":[-0.576,138],"nice":false,"zero":false},"axis":null},
  "y":{"field":"v","type":"quantitative","scale":{"domain":[0,138.2],"nice":false},"axis":null}}},
{"transform":[{"filter":"datum.i == 137"}],
 "mark":{"type":"text","text":"2493670","dx":32.2,"dy":-2,"align":"center","baseline":"middle","font":"Liberation Sans","fontSize":11.5,"color":"#222222"},
 "encoding":{"x":{"field":"i","type":"quantitative","scale":{"domain":[-0.576,138],"nice":false,"zero":false},"axis":null},
  "y":{"field":"v","type":"quantitative","scale":{"domain":[0,138.2],"nice":false},"axis":null}}}
]
}
